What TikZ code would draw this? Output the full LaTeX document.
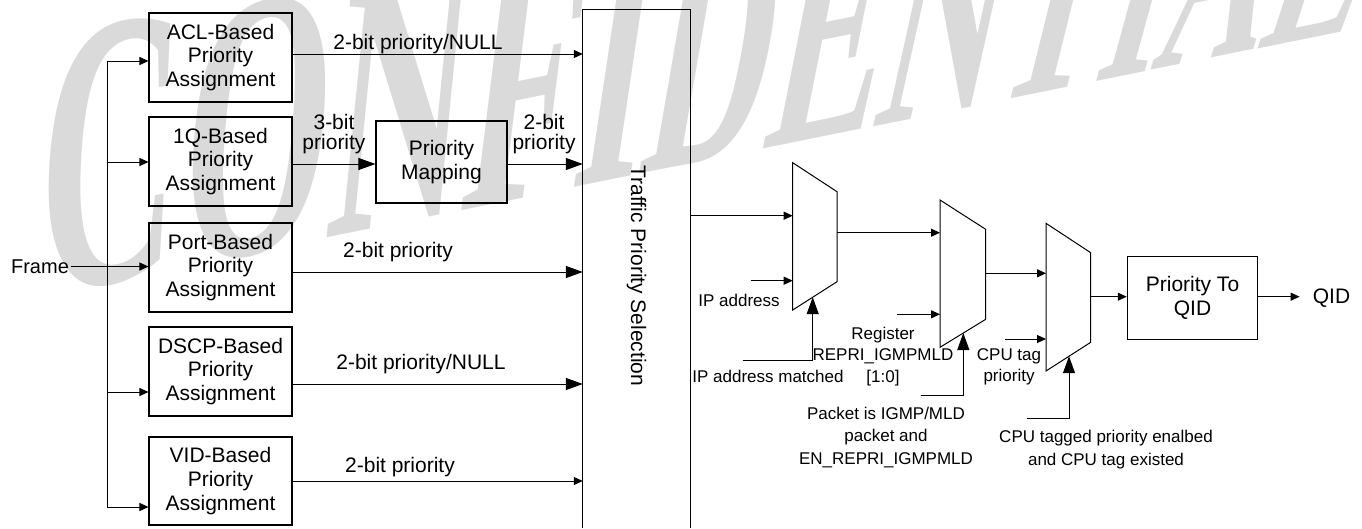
\documentclass[tikz,border=0pt]{standalone}
\usepackage{fontspec}
\setmainfont{Liberation Sans}
\newfontfamily\wmfont{Liberation Serif}
\usetikzlibrary{arrows.meta}
\definecolor{wmgray}{RGB}{218,218,218}
\tikzset{
  box/.style={draw, line width=1.1pt, align=center, inner sep=0pt, font=\fontsize{21}{23.7}\selectfont},
  lbl/.style={inner sep=0pt, align=center, font=\fontsize{21}{20.5}\selectfont},
  slbl/.style={inner sep=0pt, align=center, font=\fontsize{17}{21.5}\selectfont},
  ln/.style={line width=1pt},
  arS/.style={line width=1pt, -{Triangle[length=9pt,width=8pt]}},
  arB/.style={line width=1pt, -{Triangle[length=17pt,width=12pt]}},
  mux/.style={draw, line width=1pt, line join=miter},
  wmk/.style={inner sep=0pt, anchor=base west, transform shape, text=wmgray, font=\fontsize{10}{10}\wmfont\bfseries},
}
\newcommand\wmchar[8]{\begin{scope}[cm={#3,#4,#5,#6,(#1pt,-#2pt)}]\node[wmk] (#8) at (0,0) {#7};\end{scope}}
\begin{document}
\begin{tikzpicture}[x=1pt,y=-1pt]
\useasboundingbox (0,0) rectangle (1362,528);
% watermark
\begin{scope}
\clip (0,0) rectangle (1362,528);
\wmchar{30.0}{298.0}{19.60}{3.98}{2.07}{39.46}{C}{w1}
\wmchar{171.5}{269.3}{19.10}{3.88}{2.95}{38.40}{O}{w2}
\wmchar{320.1}{239.1}{18.60}{3.78}{3.72}{37.32}{N}{w3}
\wmchar{454.3}{211.8}{18.10}{3.68}{4.51}{36.21}{F}{w4}
\wmchar{565.0}{189.4}{17.60}{3.57}{5.24}{35.09}{I}{w5}
\wmchar{633.5}{175.5}{17.10}{3.47}{5.87}{33.99}{D}{w6}
\wmchar{757.0}{150.4}{16.60}{3.37}{6.50}{32.84}{E}{w7}
\wmchar{867.7}{127.9}{16.10}{3.27}{7.03}{31.70}{N}{w8}
\wmchar{983.9}{104.3}{15.60}{3.17}{7.56}{30.54}{T}{w9}
\wmchar{1088.0}{83.2}{15.10}{3.07}{8.04}{29.37}{I}{w10}
\wmchar{1146.7}{71.2}{14.60}{2.97}{8.41}{28.21}{A}{w11}
\wmchar{1252.2}{49.8}{14.10}{2.86}{8.78}{27.04}{L}{w12}
\end{scope}

% level coordinates
\coordinate (yA) at (0,54);
\coordinate (yM) at (0,164);
\coordinate (yP) at (0,272);
\coordinate (yD) at (0,384);
\coordinate (yV) at (0,481);
\coordinate (yT) at (0,215.7);

% left boxes
\node[box, minimum width=143pt, minimum height=89pt] (acl) at (220.5,57.5) {ACL-Based\\Priority\\Assignment};
\node[box, minimum width=143pt, minimum height=89pt] (q1) at (220.5,161.5) {1Q-Based\\Priority\\Assignment};
\node[box, minimum width=143pt, minimum height=89pt] (port) at (220.5,267.5) {Port-Based\\Priority\\Assignment};
\node[box, minimum width=143pt, minimum height=89pt] (dscp) at (220.5,371.5) {DSCP-Based\\Priority\\Assignment};
\node[box, minimum width=143pt, minimum height=88pt] (vid) at (220.5,481) {VID-Based\\Priority\\Assignment};
\node[box, minimum width=131pt, minimum height=82pt] (map) at (441.5,162) {Priority\\Mapping};

% traffic priority selection
\node[minimum width=107pt, minimum height=518pt, inner sep=0pt] (tps) at (636.5,269) {};
\draw[ln] (tps.south west) -- (tps.north west) -- (tps.north east) -- (tps.south east);
\node[lbl, rotate=-90] (tpsl) at (636.5,276) {Traffic Priority Selection};

% frame and bus
\node[lbl, anchor=base, inner xsep=2pt, font=\fontsize{20}{20}\selectfont] (frame) at (40,273.3) {Frame};
\coordinate (b1) at (107,61);
\coordinate (b2) at (107,162);
\coordinate (b4) at (107,392);
\coordinate (b5) at (107,507);
\draw[ln] (b1) -- (b5);
\draw[arS] (b1) -- (b1 -| acl.west);
\draw[arS] (b2) -- (b2 -| q1.west);
\draw[arS] (frame.east) -- (frame.east -| port.west);
\draw[arS] (b4) -- (b4 -| dscp.west);
\draw[arS] (b5) -- (b5 -| vid.west);

% outputs to TPS
\draw[arS] (acl.east |- yA) -- (tps.west |- yA);
\draw[arB] (q1.east |- yM) -- (map.west |- yM);
\draw[arB] (map.east |- yM) -- (tps.west |- yM);
\draw[arB] (port.east |- yP) -- (tps.west |- yP);
\draw[arB] (dscp.east |- yD) -- (tps.west |- yD);
\draw[arS] (vid.east |- yV) -- (tps.west |- yV);

% left labels
\node[lbl, anchor=base] (l1) at (418,49.3) {2-bit priority/NULL};
\node[lbl] (l2a) at (334,133.9) {3-bit\\priority};
\node[lbl] (l2b) at (544,133.9) {2-bit\\priority};
\node[lbl, anchor=base] (l3) at (398,257) {2-bit priority};
\node[lbl, anchor=base] (l4) at (421,369) {2-bit priority/NULL};
\node[lbl, anchor=base] (l5) at (400,472) {2-bit priority};

% muxes
\coordinate (m1a) at (792.7,162.7); \coordinate (m1b) at (837,191.7);
\coordinate (m1c) at (837,281.7);   \coordinate (m1d) at (792.7,310);
\coordinate (m2a) at (940,200);     \coordinate (m2b) at (985.7,229.3);
\coordinate (m2c) at (985.7,319.3); \coordinate (m2d) at (940,347.3);
\coordinate (m3a) at (1046,223.3);  \coordinate (m3b) at (1090.7,252.7);
\coordinate (m3c) at (1090.7,342.3);\coordinate (m3d) at (1046,371);
\draw[mux] (m1a) -- (m1b) -- (m1c) -- (m1d) -- cycle;
\draw[mux] (m2a) -- (m2b) -- (m2c) -- (m2d) -- cycle;
\draw[mux] (m3a) -- (m3b) -- (m3c) -- (m3d) -- cycle;

\node[box, minimum width=130.4pt, minimum height=83.3pt] (ptq) at (1192.5,297.7) {Priority To\\QID};
\node[lbl, anchor=base, inner xsep=13pt] (qid) at (1331.5,303.3) {QID};

% mux inputs
\draw[arS] (tps.east |- yT) -- (m1a |- yT);
\coordinate (ip1) at (750.7,280.7);
\draw[arS] (ip1) -- (ip1 -| m1a);
\coordinate (s1) at (742.7,360);  \coordinate (s1t) at (812.7,297.2);
\draw[arB] (s1) -| (s1t);
\coordinate (o1) at (837,232.7);
\draw[arS] (o1) -- (o1 -| m2a);
\coordinate (ip2) at (896.7,314.3);
\draw[arS] (ip2) -- (ip2 -| m2a);
\coordinate (s2) at (920.7,395.7); \coordinate (s2t) at (963.3,333);
\draw[arB] (s2) -| (s2t);
\coordinate (o2) at (985.7,273.3);
\draw[arS] (o2) -- (o2 -| m3a);
\coordinate (ip3) at (1005,339);
\draw[arS] (ip3) -- (ip3 -| m3a);
\coordinate (s3) at (1026.7,418.3); \coordinate (s3t) at (1069,356.2);
\draw[arB] (s3) -| (s3t);
\coordinate (o3) at (1090.7,296.7);
\draw[arS] (o3) -- (o3 -| ptq.west);
\draw[arS] (o3 -| ptq.east) -- (o3 -| qid.west);

% right labels
\node[slbl, anchor=base] (lip) at (739,306) {IP address};
\node[slbl, anchor=base] (lipm) at (768,382) {IP address matched};
\node[slbl] (reg) at (883,356.2) {Register\\REPRI\_IGMPMLD\\{[1:0]}};
\node[slbl, font=\fontsize{17}{22.5}\selectfont] (pkt) at (886,437.1) {Packet is IGMP/MLD\\packet and\\EN\_REPRI\_IGMPMLD};
\node[slbl, font=\fontsize{17}{21}\selectfont] (cput) at (1009,367.2) {CPU tag\\priority};
\node[slbl, font=\fontsize{17}{23.5}\selectfont] (cpue) at (1106,449.4) {CPU tagged priority enalbed\\and CPU tag existed};
\end{tikzpicture}
\end{document}
